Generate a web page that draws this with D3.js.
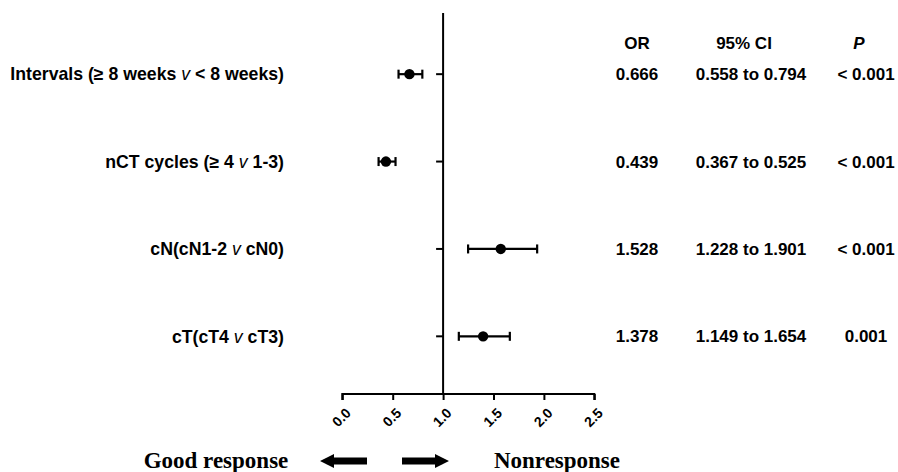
<!DOCTYPE html>
<html><head><meta charset="utf-8">
<script src="https://cdn.jsdelivr.net/npm/d3@7"></script>
<style>body{margin:0;background:#fff}svg{display:block}</style>
</head><body>
<script>
// ---- data ----
const categories = ["Intervals (\u2265 8 weeks v < 8 weeks)", "nCT cycles (\u2265 4 v 1-3)", "cN(cN1-2 v cN0)", "cT(cT4 v cT3)"];
const catMain = [["Intervals (\u2265 8 weeks ", "v", " < 8 weeks)"], ["nCT cycles (\u2265 4 ", "v", " 1-3)"], ["cN(cN1-2 ", "v", " cN0)"], ["cT(cT4 ", "v", " cT3)"]];
const orPlot = [0.666, 0.433, 1.572, 1.397];
const lowPlot = [0.558, 0.360, 1.248, 1.156];
const highPlot = [0.794, 0.528, 1.933, 1.662];
const orText = ["0.666", "0.439", "1.528", "1.378"];
const ciText = ["0.558 to 0.794", "0.367 to 0.525", "1.228 to 1.901", "1.149 to 1.654"];
const pText = ["< 0.001", "< 0.001", "< 0.001", "0.001"];
const xTicks = [0, 0.5, 1.0, 1.5, 2.0, 2.5];

const W = 898, H = 472;
const svg = d3.select("body").append("svg").attr("width", W).attr("height", H);

const x = d3.scaleLinear().domain([0, 2.5]).range([342.3, 594.3]);
const y = d3.scaleLinear().domain([-0.7, 3.66]).range([13, 394]);

const sans = "'Liberation Sans', Arial, sans-serif";
const serif = "'Liberation Serif', 'Times New Roman', serif";

// x axis
const xAxis = d3.axisBottom(x).tickValues(xTicks).tickFormat(d3.format(".1f")).tickSizeOuter(0).tickSize(6);
const gx = svg.append("g").attr("transform", "translate(0,394)").call(xAxis);
gx.select(".domain").attr("stroke", "#000").attr("stroke-width", 2).attr("d", `M${x(0)},6V0H${x(2.5)}V6`);
gx.selectAll(".tick line").attr("stroke", "#000").attr("stroke-width", 2);
gx.selectAll(".tick text")
  .attr("font-family", sans).attr("font-weight", "bold").attr("font-size", 14).attr("fill", "#000")
  .attr("text-anchor", "end").attr("dy", null).attr("y", 0)
  .attr("transform", "translate(9,20) rotate(-45)");

// y axis (vertical line at OR = 1)
const gy = svg.append("g").attr("transform", `translate(${x(1)},0)`);
gy.append("line").attr("y1", 13).attr("y2", 394).attr("stroke", "#000").attr("stroke-width", 2);
gy.selectAll("line.tk").data(categories).join("line").attr("class", "tk")
  .attr("x1", -7).attr("x2", 0).attr("y1", (d, i) => y(i)).attr("y2", (d, i) => y(i))
  .attr("stroke", "#000").attr("stroke-width", 2);

// error bars
const eb = svg.append("g");
categories.forEach((c, i) => {
  const yy = y(i);
  eb.append("line").attr("x1", x(lowPlot[i])).attr("x2", x(highPlot[i])).attr("y1", yy).attr("y2", yy).attr("stroke", "#000").attr("stroke-width", 2.2);
  [lowPlot[i], highPlot[i]].forEach(v => {
    eb.append("line").attr("x1", x(v)).attr("x2", x(v)).attr("y1", yy - 4.5).attr("y2", yy + 4.5).attr("stroke", "#000").attr("stroke-width", 2.2);
  });
  eb.append("circle").attr("cx", x(orPlot[i])).attr("cy", yy).attr("r", 5.2).attr("fill", "#000");
});

// category labels
catMain.forEach((parts, i) => {
  const t = svg.append("text").attr("x", 284).attr("y", y(i)).attr("dy", "0.35em")
    .attr("text-anchor", "end").attr("font-family", sans).attr("font-weight", "bold").attr("font-size", 17.7).attr("fill", "#000");
  t.append("tspan").text(parts[0]);
  t.append("tspan").attr("font-style", "italic").attr("font-weight", "normal").text(parts[1]);
  t.append("tspan").text(parts[2]);
});

// table
const cols = [637, 751, 866];
const hdr = svg.append("g").attr("font-family", sans).attr("font-weight", "bold").attr("font-size", 17).attr("text-anchor", "middle");
hdr.append("text").attr("x", cols[0]).attr("y", 49).text("OR");
hdr.append("text").attr("x", 744).attr("y", 49).text("95% CI");
hdr.append("text").attr("x", 859).attr("y", 49).attr("font-style", "italic").text("P");
const tb = svg.append("g").attr("font-family", sans).attr("font-weight", "bold").attr("font-size", 17).attr("text-anchor", "middle");
categories.forEach((c, i) => {
  tb.append("text").attr("x", cols[0]).attr("y", y(i)).attr("dy", "0.35em").text(orText[i]);
  tb.append("text").attr("x", cols[1]).attr("y", y(i)).attr("dy", "0.35em").text(ciText[i]);
  tb.append("text").attr("x", cols[2]).attr("y", y(i)).attr("dy", "0.35em").text(pText[i]);
});

// bottom labels & arrows
svg.append("text").attr("x", 216).attr("y", 468).attr("text-anchor", "middle").attr("font-family", serif).attr("font-weight", "bold").attr("font-size", 23).text("Good response");
svg.append("text").attr("x", 557).attr("y", 468).attr("text-anchor", "middle").attr("font-family", serif).attr("font-weight", "bold").attr("font-size", 23).text("Nonresponse");
const ay = 461;
svg.append("path").attr("fill", "#000")
  .attr("d", `M320,${ay} L334,${ay-7} L334,${ay-3.5} L367,${ay-3.5} L367,${ay+3.5} L334,${ay+3.5} L334,${ay+7} Z`);
svg.append("path").attr("fill", "#000")
  .attr("d", `M449,${ay} L435,${ay-7} L435,${ay-3.5} L402,${ay-3.5} L402,${ay+3.5} L435,${ay+3.5} L435,${ay+7} Z`);
</script>
</body></html>
